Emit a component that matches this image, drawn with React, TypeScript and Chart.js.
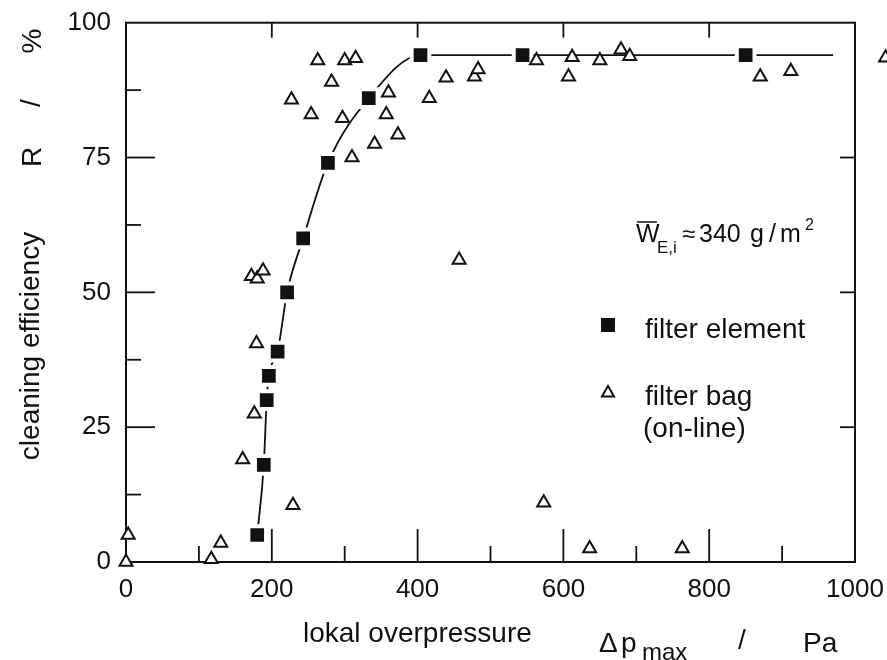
import React, { useEffect, useRef } from 'react';
import { Chart, registerables } from 'chart.js';

Chart.register(...registerables);

// ---------- data ----------
const elementPressure = [180, 189, 193, 196, 208, 221, 243, 277, 333, 404, 544, 850];
const elementEfficiency = [5, 18, 30, 34.5, 39, 50, 60, 74, 86, 94, 94, 94];

const curvePressure = [180, 189, 193, 196, 208, 221, 243, 277, 333, 404, 544, 850, 970];
const curveEfficiency = [5, 18, 30, 34.5, 39, 50, 60, 74, 86, 94, 94, 94, 94];

const bagPressure = [
  0, 3, 117, 130, 160, 176, 179, 172, 180, 188, 229, 227, 254, 263, 282, 297, 300, 310, 315, 341,
  357, 360, 373, 416, 439, 457, 478, 483, 563, 573, 607, 612, 636, 650, 679, 691, 763, 870, 912, 1042,
];
const bagEfficiency = [
  0, 5, 0.5, 3.5, 19, 27.5, 40.5, 53, 52.5, 54, 10.5, 85.7, 83, 93, 89, 82.3, 93, 75, 93.4, 77.5,
  83, 87, 79.2, 86, 89.8, 56, 90, 91.3, 93, 11, 90, 93.6, 2.5, 93, 95, 93.8, 2.5, 90, 91, 93.5,
];

const xMin = 0;
const xMax = 1000;
const xStep = 200;
const yMin = 0;
const yMax = 100;
const yStep = 25;
const xMajorTicks = [200, 400, 600, 800];
const xMinorTicks = [100, 300, 500, 700, 900];
const yMajorTicks = [25, 50, 75];
const yMinorTicks = [12.5, 37.5, 62.5, 87.5];

const legendElement = 'filter element';
const legendBag = 'filter bag';
const legendBag2 = '(on-line)';
const yTitle = 'cleaning efficiency';
const xTitle = 'lokal overpressure';

const FONT = '"Liberation Sans", Arial, Helvetica, sans-serif';
const INK = '#111';
const TRI_R = 7.5;

const zeroPadding = (s: any) => {
  s.paddingLeft = 0;
  s.paddingRight = 0;
  s.paddingTop = 0;
  s.paddingBottom = 0;
};

function drawTriangle(ctx: CanvasRenderingContext2D, cx: number, cy: number, r: number) {
  ctx.beginPath();
  ctx.moveTo(cx, cy - r);
  ctx.lineTo(cx + r * Math.sin((2 * Math.PI) / 3), cy - r * Math.cos((2 * Math.PI) / 3));
  ctx.lineTo(cx + r * Math.sin((4 * Math.PI) / 3), cy - r * Math.cos((4 * Math.PI) / 3));
  ctx.closePath();
  ctx.fill();
  ctx.stroke();
}

const decorPlugin = {
  id: 'decor',
  beforeDatasetsDraw(chart: any) {
    const { ctx, chartArea } = chart;
    const xs = chart.scales.x;
    const ys = chart.scales.y;
    const { left, right, top, bottom } = chartArea;
    ctx.save();
    ctx.strokeStyle = INK;
    ctx.lineWidth = 2;
    ctx.strokeRect(left, top, right - left, bottom - top);
    ctx.lineWidth = 1.8;
    const line = (x1: number, y1: number, x2: number, y2: number) => {
      ctx.beginPath();
      ctx.moveTo(x1, y1);
      ctx.lineTo(x2, y2);
      ctx.stroke();
    };
    for (const v of xMajorTicks) {
      const px = xs.getPixelForValue(v);
      line(px, bottom, px, bottom - 33);
      line(px, top, px, top + 15);
    }
    for (const v of xMinorTicks) {
      const px = xs.getPixelForValue(v);
      line(px, bottom, px, bottom - 16);
    }
    for (const v of yMajorTicks) {
      const py = ys.getPixelForValue(v);
      line(left, py, left + 29, py);
      line(right, py, right - 15, py);
    }
    for (const v of yMinorTicks) {
      const py = ys.getPixelForValue(v);
      line(left, py, left + 15, py);
    }
    ctx.restore();
  },
  afterDatasetsDraw(chart: any) {
    // filter-bag points lying beyond the x-range (Chart.js skips them)
    const { ctx } = chart;
    const xs = chart.scales.x;
    const ys = chart.scales.y;
    ctx.save();
    ctx.fillStyle = '#fff';
    ctx.strokeStyle = INK;
    ctx.lineWidth = 2;
    bagPressure.forEach((x, i) => {
      if (x > xMax) {
        drawTriangle(ctx, xs.getPixelForValue(x), ys.getPixelForValue(bagEfficiency[i]), TRI_R);
      }
    });
    ctx.restore();
  },
  afterDraw(chart: any) {
    const { ctx } = chart;
    ctx.save();
    ctx.fillStyle = INK;
    ctx.strokeStyle = INK;
    ctx.textBaseline = 'alphabetic';
    const txt = (s: string, x: number, y: number, size: number, align: CanvasTextAlign = 'left') => {
      ctx.font = `${size}px ${FONT}`;
      ctx.textAlign = align;
      ctx.fillText(s, x, y);
    };
    const vtxt = (s: string, x: number, y: number, size: number) => {
      ctx.save();
      ctx.translate(x, y);
      ctx.rotate(-Math.PI / 2);
      ctx.font = `${size}px ${FONT}`;
      ctx.textAlign = 'center';
      ctx.fillText(s, 0, 0);
      ctx.restore();
    };

    // y-axis title
    vtxt(yTitle, 39, 346, 28);
    vtxt('R', 41, 157, 28);
    vtxt('/', 40, 103, 28);
    vtxt('%', 41, 41, 28);

    // x-axis title
    txt(xTitle, 303, 642, 28);
    txt('\u0394', 599, 652, 28);
    txt('p', 621, 652, 28);
    txt('max', 642, 660, 24);
    txt('/', 742, 649, 28, 'center');
    txt('Pa', 803, 652, 28);

    // annotation W_E,i ≈ 340 g/m²
    txt('W', 636, 242, 25);
    ctx.lineWidth = 1.5;
    ctx.beginPath();
    ctx.moveTo(637, 222);
    ctx.lineTo(657, 222);
    ctx.stroke();
    txt('E,i', 657, 253, 17);
    txt('\u2248', 682, 242, 24);
    txt('340', 699, 242, 25);
    txt('g', 750, 242, 25);
    txt('/', 769, 242, 25);
    txt('m', 780, 242, 25);
    txt('2', 805, 230, 16);

    // legend
    ctx.fillRect(601, 318, 14, 14);
    txt(legendElement, 645, 338, 28);
    ctx.lineWidth = 2;
    ctx.fillStyle = '#fff';
    drawTriangle(ctx, 608, 393, 7);
    ctx.fillStyle = INK;
    txt(legendBag, 645, 405, 28);
    txt(legendBag2, 643, 437, 28);
    ctx.restore();
  },
};

export default function App() {
  const canvasRef = useRef<HTMLCanvasElement | null>(null);

  useEffect(() => {
    const canvas = canvasRef.current;
    if (!canvas) return;
    const chart = new Chart(canvas, {
      type: 'scatter',
      data: {
        datasets: [
          {
            label: legendBag,
            data: bagPressure.map((x, i) => ({ x, y: bagEfficiency[i] })),
            pointStyle: 'triangle',
            pointRadius: TRI_R,
            pointBorderWidth: 2,
            pointBackgroundColor: '#fff',
            pointBorderColor: INK,
            showLine: false,
            clip: false as any,
            order: 0,
          },
          {
            label: legendElement,
            data: elementPressure.map((x, i) => ({ x, y: elementEfficiency[i] })),
            pointStyle: 'rect',
            pointRadius: 12.5,
            pointBorderWidth: 4,
            pointBackgroundColor: INK,
            pointBorderColor: '#fff',
            showLine: false,
            order: 1,
          },
          {
            label: 'fit',
            data: curvePressure.map((x, i) => ({ x, y: curveEfficiency[i] })),
            showLine: true,
            pointRadius: 0,
            borderColor: INK,
            borderWidth: 1.8,
            cubicInterpolationMode: 'monotone',
            fill: false,
            order: 2,
          } as any,
        ],
      },
      options: {
        responsive: false,
        animation: false,
        events: [],
        layout: { padding: { top: 22.7, right: 32, left: 0, bottom: 0 } },
        plugins: {
          legend: { display: false },
          tooltip: { enabled: false },
        },
        scales: {
          x: {
            type: 'linear',
            min: xMin,
            max: xMax,
            ticks: {
              stepSize: xStep,
              color: INK,
              padding: 12,
              font: { family: FONT, size: 26 },
              callback: (v: any) => String(v),
              maxRotation: 0,
            },
            grid: { display: false, drawTicks: false },
            border: { display: false },
            afterFit: (s: any) => {
              s.height = 98;
              zeroPadding(s);
            },
          },
          y: {
            type: 'linear',
            min: yMin,
            max: yMax,
            ticks: {
              stepSize: yStep,
              color: INK,
              padding: 15,
              font: { family: FONT, size: 26 },
              callback: (v: any) => String(v),
            },
            grid: { display: false, drawTicks: false },
            border: { display: false },
            afterFit: (s: any) => {
              s.width = 126;
              zeroPadding(s);
            },
          },
        },
      },
      plugins: [decorPlugin],
    });
    return () => chart.destroy();
  }, []);

  return (
    <div style={{ position: 'absolute', left: 0, top: 0, width: 887, height: 660, background: '#fff' }}>
      <canvas ref={canvasRef} width={887} height={660} style={{ display: 'block', width: 887, height: 660 }} />
    </div>
  );
}
